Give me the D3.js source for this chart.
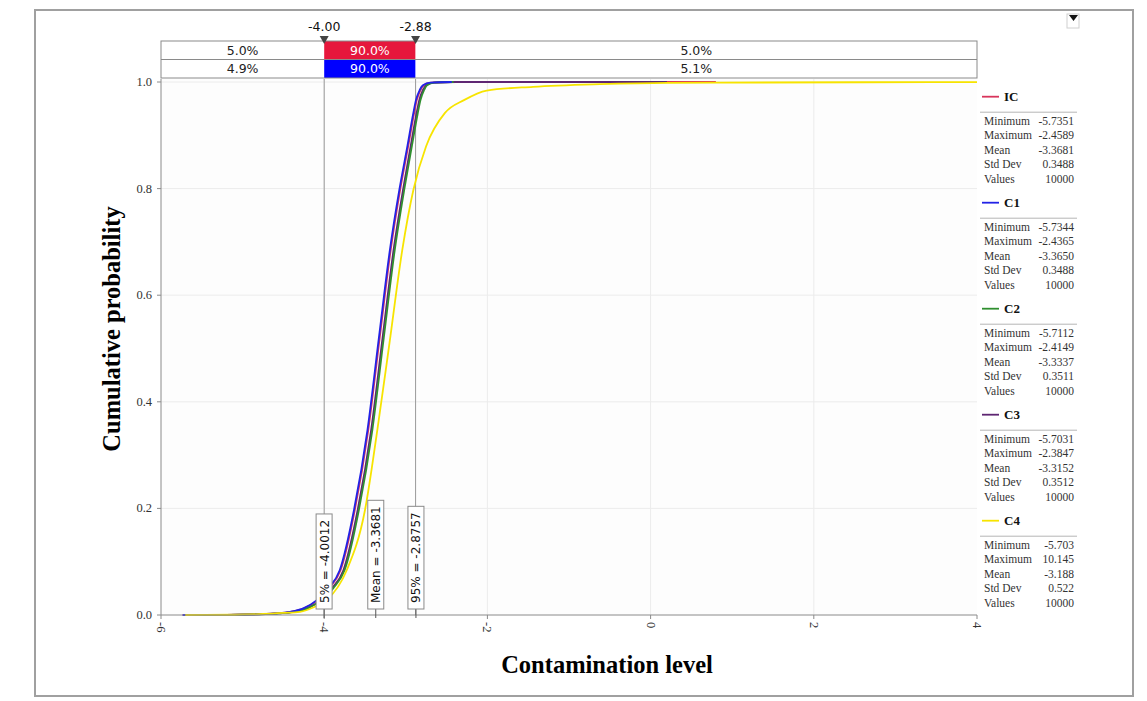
<!DOCTYPE html>
<html>
<head>
<meta charset="utf-8">
<script src="https://cdn.jsdelivr.net/npm/d3@7"></script>
<style>
  body { margin: 0; background: #fff; }
  text { font-family: "DejaVu Sans", sans-serif; }
  .serif { font-family: "Liberation Serif", "Times New Roman", serif; }
</style>
</head>
<body>
<div id="chart"></div>
<script>
// Data
const seriesNames = ['IC', 'C1', 'C2', 'C3', 'C4']

const curveIC = [[-5.7351,0],[-5.2,0.0002],[-4.9,0.001],[-4.6,0.003],[-4.41,0.006],[-4.24,0.013],[-4.08,0.028],[-3.94,0.05],[-3.8,0.084],[-3.625,0.197],[-3.46,0.347],[-3.32,0.52],[-3.185,0.685],[-3.07,0.797],[-2.97,0.88],[-2.9,0.94],[-2.866,0.966],[-2.82,0.985],[-2.78,0.994],[-2.69,0.999],[-2.4589,1],[0.8,1]]
const curveC1 = [[-5.7344,0],[-5.2,0.0002],[-4.9,0.001],[-4.6,0.003],[-4.42,0.006],[-4.25,0.013],[-4.09,0.028],[-3.95,0.05],[-3.81,0.084],[-3.635,0.197],[-3.47,0.347],[-3.33,0.52],[-3.195,0.685],[-3.08,0.797],[-2.98,0.88],[-2.91,0.94],[-2.876,0.966],[-2.83,0.985],[-2.79,0.994],[-2.7,0.999],[-2.4365,1]]
const curveC2 = [[-5.7112,0],[-5.15,0.0002],[-4.85,0.001],[-4.55,0.003],[-4.37,0.006],[-4.2,0.013],[-4.035,0.028],[-3.89,0.05],[-3.75,0.084],[-3.575,0.197],[-3.41,0.347],[-3.27,0.52],[-3.135,0.685],[-3.02,0.797],[-2.925,0.88],[-2.855,0.94],[-2.82,0.966],[-2.775,0.985],[-2.74,0.994],[-2.65,0.999],[-2.4149,1]]
const curveC3 = [[-5.7031,0],[-5.15,0.0002],[-4.85,0.001],[-4.55,0.003],[-4.37,0.006],[-4.2,0.013],[-4.045,0.028],[-3.905,0.05],[-3.765,0.084],[-3.59,0.197],[-3.425,0.347],[-3.285,0.52],[-3.15,0.685],[-3.035,0.797],[-2.94,0.88],[-2.87,0.94],[-2.835,0.966],[-2.79,0.985],[-2.75,0.994],[-2.66,0.999],[-2.3847,1],[0.2,1]]
const curveC4 = [[-5.703,0],[-5.1,0.0005],[-4.75,0.002],[-4.5,0.004],[-4.297,0.006],[-4.12,0.015],[-3.969,0.028],[-3.724,0.084],[-3.5,0.197],[-3.349,0.347],[-3.2,0.51],[-3.043,0.685],[-2.908,0.797],[-2.752,0.879],[-2.52,0.942],[-2.287,0.966],[-2.009,0.984],[-1.441,0.991],[-0.62,0.996],[0.201,0.9985],[2.6,0.9995],[4,0.9998]]

const statLabels = ['Minimum', 'Maximum', 'Mean', 'Std Dev', 'Values']
const statsIC = ['-5.7351', '-2.4589', '-3.3681', '0.3488', '10000']
const statsC1 = ['-5.7344', '-2.4365', '-3.3650', '0.3488', '10000']
const statsC2 = ['-5.7112', '-2.4149', '-3.3337', '0.3511', '10000']
const statsC3 = ['-5.7031', '-2.3847', '-3.3152', '0.3512', '10000']
const statsC4 = ['-5.703', '10.145', '-3.188', '0.522', '10000']

const xTicks = [-6, -4, -2, 0, 2, 4]
const yTicks = [0, 0.2, 0.4, 0.6, 0.8, 1.0]

const limitValues = [-4.00, -2.88]
const limitLabels = ['-4.00', '-2.88']
const barLeft = ['5.0%', '4.9%']
const barMid = ['90.0%', '90.0%']
const barRight = ['5.0%', '5.1%']

const markerValues = [-4.0012, -3.3681, -2.8757]
const markerLabels = ['5% = -4.0012', 'Mean = -3.3681', '95% = -2.8757']

function draw() {
  const curves = [curveIC, curveC1, curveC2, curveC3, curveC4]
  const stats = [statsIC, statsC1, statsC2, statsC3, statsC4]
  const colors = ['#d8355c', '#2222e6', '#2f8f2f', '#5e2672', '#f7e400']
  const drawOrder = [0, 3, 2, 1, 4] // green stays visible next to purple

  const width = 1147, height = 701
  const plot = { left: 161, right: 977, top: 79, bottom: 615 }

  const svg = d3.select('#chart').append('svg')
    .attr('width', width)
    .attr('height', height)

  // outer frame
  svg.append('rect')
    .attr('x', 35).attr('y', 10)
    .attr('width', 1098).attr('height', 686)
    .attr('fill', '#fff').attr('stroke', '#a0a0a0').attr('stroke-width', 2)

  // Scales
  const x = d3.scaleLinear().domain([-6, 4]).range([plot.left, plot.right])
  const y = d3.scaleLinear().domain([0, 1]).range([plot.bottom, 82])

  // plot background + grid
  svg.append('rect')
    .attr('x', plot.left).attr('y', plot.top)
    .attr('width', plot.right - plot.left).attr('height', plot.bottom - plot.top)
    .attr('fill', '#fdfdfd')

  svg.append('g').selectAll('line')
    .data(xTicks.slice(1, -1))
    .join('line')
    .attr('x1', d => x(d)).attr('x2', d => x(d))
    .attr('y1', plot.top).attr('y2', plot.bottom)
    .attr('stroke', '#ececec')

  svg.append('g').selectAll('line')
    .data(yTicks.slice(1))
    .join('line')
    .attr('x1', plot.left).attr('x2', plot.right)
    .attr('y1', d => y(d)).attr('y2', d => y(d))
    .attr('stroke', '#ececec')

  // limit lines (5% / 95%)
  svg.append('g').selectAll('line')
    .data(limitValues)
    .join('line')
    .attr('x1', d => x(d)).attr('x2', d => x(d))
    .attr('y1', plot.top).attr('y2', plot.bottom)
    .attr('stroke', '#9a9a9a')

  // curves
  const line = d3.line()
    .x(d => x(d[0]))
    .y(d => y(d[1]))
    .curve(d3.curveMonotoneX)

  svg.append('g').selectAll('path')
    .data(drawOrder)
    .join('path')
    .attr('d', i => line(curves[i]))
    .attr('fill', 'none')
    .attr('stroke', i => colors[i])
    .attr('stroke-width', 1.8)

  // axes
  svg.append('line')
    .attr('x1', plot.left).attr('x2', plot.left)
    .attr('y1', plot.top).attr('y2', plot.bottom)
    .attr('stroke', '#8a8a8a')
  svg.append('line')
    .attr('x1', plot.left).attr('x2', plot.right)
    .attr('y1', plot.bottom).attr('y2', plot.bottom)
    .attr('stroke', '#8a8a8a')

  const yAxis = svg.append('g')
  yAxis.selectAll('line')
    .data(yTicks)
    .join('line')
    .attr('x1', plot.left - 4).attr('x2', plot.left)
    .attr('y1', d => y(d)).attr('y2', d => y(d))
    .attr('stroke', '#8a8a8a')
  yAxis.selectAll('text')
    .data(yTicks)
    .join('text')
    .attr('class', 'serif')
    .attr('x', plot.left - 9)
    .attr('y', d => y(d) + 4)
    .attr('text-anchor', 'end')
    .attr('font-size', 12.5)
    .attr('fill', '#333')
    .text(d => d3.format('.1f')(d))

  const xAxis = svg.append('g')
  xAxis.selectAll('line')
    .data(xTicks)
    .join('line')
    .attr('x1', d => x(d)).attr('x2', d => x(d))
    .attr('y1', plot.bottom).attr('y2', plot.bottom + 4)
    .attr('stroke', '#8a8a8a')
  xAxis.selectAll('text')
    .data(xTicks)
    .join('text')
    .attr('class', 'serif')
    .attr('transform', d => `translate(${x(d) - 4},${plot.bottom + 7}) rotate(90)`)
    .attr('font-size', 12.5)
    .attr('fill', '#333')
    .text(d => d)

  // axis titles
  svg.append('text')
    .attr('class', 'serif')
    .attr('transform', 'translate(120,329) rotate(-90)')
    .attr('text-anchor', 'middle')
    .attr('font-size', 24.5)
    .attr('font-weight', 'bold')
    .text('Cumulative probability')

  svg.append('text')
    .attr('class', 'serif')
    .attr('x', 607)
    .attr('y', 673)
    .attr('text-anchor', 'middle')
    .attr('font-size', 24.5)
    .attr('font-weight', 'bold')
    .text('Contamination level')

  // marker boxes (5%, mean, 95%)
  const boxBottom = plot.bottom - 6
  const markers = svg.append('g')
  markerValues.forEach((v, i) => {
    const g = markers.append('g')
    g.append('line')
      .attr('x1', x(v)).attr('x2', x(v))
      .attr('y1', boxBottom).attr('y2', plot.bottom + 3)
      .attr('stroke', '#555')
    const box = g.append('rect').attr('fill', '#fff').attr('stroke', '#8a8a8a')
    const t = g.append('text')
      .attr('font-size', 12)
      .attr('fill', '#111')
      .attr('transform', `translate(${x(v) + 4.5},${boxBottom - 6}) rotate(-90)`)
      .text(markerLabels[i])
    const len = t.node().getComputedTextLength()
    box.attr('x', x(v) - 8).attr('width', 16)
      .attr('y', boxBottom - len - 12).attr('height', len + 12)
  })

  // top percentage bars
  const rowTop = [41, 59.5]
  const rowH = 18.5
  const fills = ['#e6173c', '#0000ff']
  const bars = svg.append('g')
  rowTop.forEach((ty, r) => {
    const segs = [
      { x0: x.domain()[0], x1: limitValues[0], text: barLeft[r], fill: '#fff', color: '#222' },
      { x0: limitValues[0], x1: limitValues[1], text: barMid[r], fill: fills[r], color: '#fff' },
      { x0: limitValues[1], x1: x.domain()[1], text: barRight[r], fill: '#fff', color: '#222' }
    ]
    bars.append('g').selectAll('rect')
      .data(segs)
      .join('rect')
      .attr('x', d => x(d.x0)).attr('y', ty)
      .attr('width', d => x(d.x1) - x(d.x0)).attr('height', rowH)
      .attr('fill', d => d.fill)
    bars.append('g').selectAll('text')
      .data(segs)
      .join('text')
      .attr('x', d => (x(d.x0) + x(d.x1)) / 2)
      .attr('y', ty + rowH / 2 + 4.5)
      .attr('text-anchor', 'middle')
      .attr('font-size', 12.5)
      .attr('fill', d => d.color)
      .text(d => d.text)
  })
  bars.append('rect')
    .attr('x', plot.left).attr('y', rowTop[0])
    .attr('width', plot.right - plot.left).attr('height', rowH * 2)
    .attr('fill', 'none').attr('stroke', '#8a8a8a')
  bars.append('line')
    .attr('x1', plot.left).attr('x2', plot.right)
    .attr('y1', rowTop[1]).attr('y2', rowTop[1])
    .attr('stroke', '#8a8a8a')

  // limit triangles + labels
  const lim = svg.append('g')
  lim.selectAll('path')
    .data(limitValues)
    .join('path')
    .attr('d', d => `M${x(d) - 4.5},36 L${x(d) + 4.5},36 L${x(d)},44 Z`)
    .attr('fill', '#444')
  lim.selectAll('text')
    .data(limitValues)
    .join('text')
    .attr('x', d => x(d))
    .attr('y', 31)
    .attr('text-anchor', 'middle')
    .attr('font-size', 12.5)
    .attr('fill', '#111')
    .text((d, i) => limitLabels[i])

  // legend with stats
  const legend = svg.append('g').attr('class', 'serif')
  seriesNames.forEach((name, i) => {
    const top = 96.7 + i * 106
    const g = legend.append('g')
    g.append('line')
      .attr('x1', 982).attr('x2', 999)
      .attr('y1', top).attr('y2', top)
      .attr('stroke', colors[i]).attr('stroke-width', 1.8)
    g.append('text')
      .attr('class', 'serif')
      .attr('x', 1004).attr('y', top + 4.5)
      .attr('font-size', 13).attr('font-weight', 'bold')
      .attr('fill', '#111')
      .text(name)
    g.append('line')
      .attr('x1', 980).attr('x2', 1077)
      .attr('y1', top + 15.5).attr('y2', top + 15.5)
      .attr('stroke', '#b5b5b5')
    statLabels.forEach((lab, j) => {
      const ry = top + 24 + j * 14.65 + 3.8
      g.append('text')
        .attr('class', 'serif')
        .attr('x', 984).attr('y', ry)
        .attr('font-size', 11.5).attr('fill', '#333')
        .text(lab)
      g.append('text')
        .attr('class', 'serif')
        .attr('x', 1074).attr('y', ry)
        .attr('text-anchor', 'end')
        .attr('font-size', 11.5).attr('fill', '#333')
        .text(stats[i][j])
    })
  })

  // little menu icon top right
  svg.append('rect')
    .attr('x', 1067).attr('y', 14).attr('width', 12).attr('height', 14)
    .attr('fill', '#fff').attr('stroke', '#d0d0d0')
  svg.append('path')
    .attr('d', 'M1069,15 L1078,15 L1073.5,21 Z')
    .attr('fill', '#111')
}

draw()
</script>
</body>
</html>
